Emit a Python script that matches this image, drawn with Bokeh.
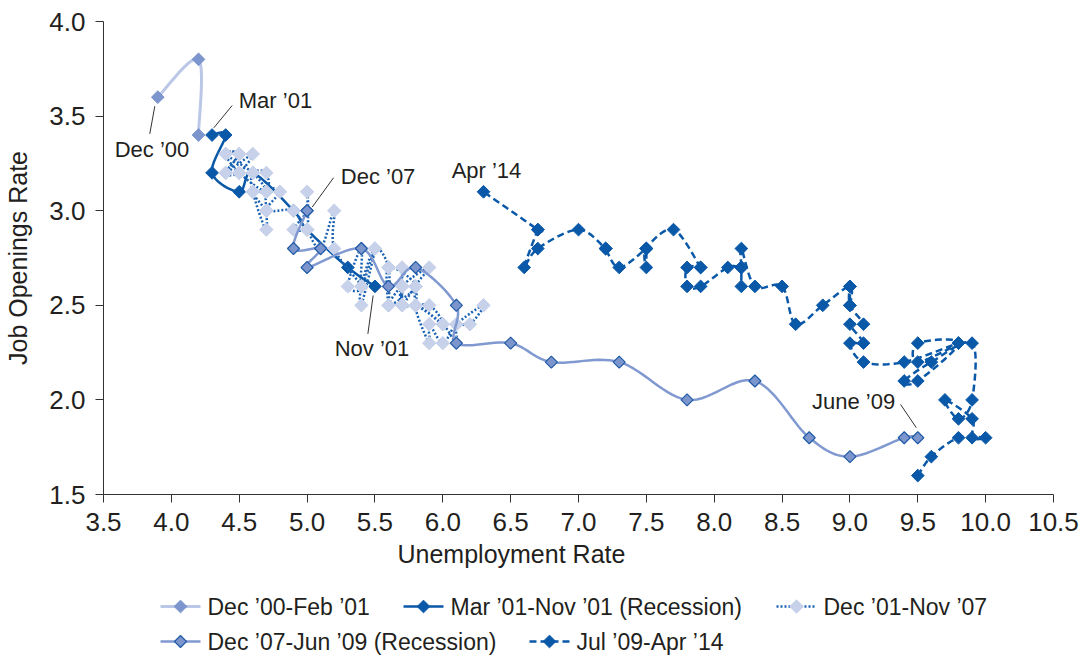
import numpy as np
from bokeh.plotting import figure
from bokeh.layouts import column
from bokeh.models import Range1d, Label, FixedTicker, NumeralTickFormatter, Title
from bokeh.core.properties import value
from bokeh.embed import file_html
from bokeh.resources import INLINE

# ---------------- data ----------------
s1_u = [3.9, 4.2, 4.2]
s1_v = [3.6, 3.8, 3.4]

s2_u = [4.3, 4.4, 4.3, 4.5, 4.6, 4.9, 5.0, 5.3, 5.5]
s2_v = [3.4, 3.4, 3.2, 3.1, 3.2, 3.0, 2.9, 2.7, 2.6]

s3_u = [5.7,
        5.7, 5.7, 5.7, 5.9, 5.8, 5.8, 5.8, 5.7, 5.7, 5.7, 5.9, 6.0,
        5.8, 5.9, 5.9, 6.0, 6.1, 6.3, 6.2, 6.1, 6.1, 6.0, 5.8, 5.7,
        5.7, 5.6, 5.8, 5.6, 5.6, 5.6, 5.5, 5.4, 5.4, 5.5, 5.4, 5.4,
        5.3, 5.4, 5.2, 5.2, 5.1, 5.0, 5.0, 4.9, 5.0, 5.0, 5.0, 4.9,
        4.7, 4.8, 4.7, 4.7, 4.6, 4.6, 4.7, 4.7, 4.5, 4.4, 4.5, 4.4,
        4.6, 4.5, 4.4, 4.5, 4.4, 4.6, 4.7, 4.6, 4.7, 4.7, 4.7]
s3_v = [2.6,
        2.7, 2.5, 2.6, 2.7, 2.6, 2.5, 2.6, 2.5, 2.6, 2.5, 2.5, 2.4,
        2.5, 2.3, 2.4, 2.3, 2.4, 2.5, 2.4, 2.4, 2.3, 2.4, 2.5, 2.5,
        2.6, 2.5, 2.6, 2.7, 2.5, 2.7, 2.8, 2.6, 2.5, 2.8, 2.6, 2.8,
        2.6, 2.6, 2.8, 3.0, 2.8, 2.9, 2.9, 2.9, 3.0, 3.1, 2.9, 3.0,
        3.0, 3.1, 3.1, 2.9, 3.1, 3.2, 3.2, 3.1, 3.2, 3.3, 3.3, 3.2,
        3.3, 3.2, 3.2, 3.3, 3.3, 3.2, 3.1, 3.1, 3.0, 3.0, 3.0]

s4_u = [5.0, 5.0, 4.9, 5.1, 5.0, 5.4, 5.6, 5.8, 6.1, 6.1, 6.5, 6.8, 7.3, 7.8, 8.3, 8.7, 9.0, 9.4, 9.5]
s4_v = [3.0, 3.0, 2.8, 2.8, 2.7, 2.8, 2.6, 2.7, 2.5, 2.3, 2.3, 2.2, 2.2, 2.0, 2.1, 1.8, 1.7, 1.8, 1.8]

s5_u = [9.5, 9.6, 9.8, 10.0, 9.9, 9.9,
        9.7, 9.8, 9.9, 9.9, 9.6, 9.4, 9.5, 9.8, 9.5, 9.5, 9.8, 9.4,
        9.1, 9.0, 9.1, 9.0, 9.1, 9.0, 9.0, 9.0, 9.0, 8.8, 8.6, 8.5,
        8.3, 8.2, 8.2, 8.2, 8.2, 8.2, 8.2, 8.1, 7.9, 7.8, 7.8, 7.9,
        7.9, 7.7, 7.5, 7.5, 7.5, 7.5, 7.3, 7.2, 7.2, 7.2, 7.0, 6.7,
        6.6, 6.7, 6.7, 6.3]
s5_v = [1.6, 1.7, 1.8, 1.8, 1.8, 1.9,
        2.0, 1.9, 2.0, 2.3, 2.2, 2.1, 2.1, 2.3, 2.3, 2.2, 2.3, 2.2,
        2.2, 2.3, 2.3, 2.4, 2.4, 2.5, 2.6, 2.5, 2.6, 2.5, 2.4, 2.6,
        2.6, 2.8, 2.7, 2.6, 2.7, 2.7, 2.7, 2.7, 2.6, 2.6, 2.7, 2.7,
        2.7, 2.9, 2.8, 2.7, 2.8, 2.8, 2.7, 2.8, 2.8, 2.8, 2.9, 2.8,
        2.7, 2.9, 2.9, 3.1]

series_labels = ["Dec \u201900-Feb \u201901", "Mar \u201901-Nov \u201901 (Recession)",
                 "Dec \u201901-Nov \u201907", "Dec \u201907-Jun \u201909 (Recession)",
                 "Jul \u201909-Apr \u201914"]

x_ticks = [3.5, 4.0, 4.5, 5.0, 5.5, 6.0, 6.5, 7.0, 7.5, 8.0, 8.5, 9.0, 9.5, 10.0, 10.5]
y_ticks = [1.5, 2.0, 2.5, 3.0, 3.5, 4.0]

# annotation texts and their anchor points (label centre x, label centre y)
ann_text = ["Dec \u201900", "Mar \u201901", "Dec \u201907", "Nov \u201901", "Apr \u201914", "June \u201909"]
ann_x = [3.857, 4.767, 5.523, 5.478, 6.322, 9.027]
ann_y = [3.326, 3.580, 3.183, 2.274, 3.212, 1.989]
lead_x0 = [3.878, 4.448, 5.195, 5.487, 9.373]
lead_y0 = [3.552, 3.556, 3.174, 2.552, 1.976]
lead_x1 = [3.841, 4.313, 5.038, 5.448, 9.489]
lead_y1 = [3.406, 3.438, 3.019, 2.349, 1.853]

FONT = "Liberation Sans"
TXT = "#231f20"
DARK = "#0a58a8"
LIGHT = "#c7d1ea"
MED = "#7d95cd"
ANG = np.pi / 4

# per-series styles: line colour, width, dash, marker fill, marker outline, size, outline width
styles = [
    dict(lc="#bac7e6", lw=3.0, dash="solid", mf=MED, ml=MED, ms=9, mlw=1),
    dict(lc=DARK, lw=2.5, dash="solid", mf=DARK, ml=DARK, ms=9, mlw=1),
    dict(lc="#1a62b3", lw=2.5, dash="2 2", mf=LIGHT, ml=LIGHT, ms=9.5, mlw=1),
    dict(lc="#8199d1", lw=2.5, dash="solid", mf=MED, ml="#1f5aa6", ms=8.5, mlw=1.2),
    dict(lc=DARK, lw=2.5, dash="7 4", mf=DARK, ml=DARK, ms=9, mlw=1),
]


def smooth(xs, ys, n=14):
    """Smoothed path through the points (Excel-style Bezier) in screen-proportional space."""
    sx, sy = 135.71, 189.2
    pts = np.column_stack([np.asarray(xs, float) * sx, np.asarray(ys, float) * sy])
    P = np.vstack([pts[0], pts, pts[-1]])
    out = [pts[0]]
    for i in range(1, len(P) - 2):
        p0, p1, p2, p3 = P[i - 1], P[i], P[i + 1], P[i + 2]
        c1 = p1 + (p2 - p0) / 6.0
        c2 = p2 - (p3 - p1) / 6.0
        t = np.linspace(0, 1, n + 1)[1:][:, None]
        seg = ((1 - t) ** 3) * p1 + 3 * ((1 - t) ** 2) * t * c1 + 3 * (1 - t) * t * t * c2 + t ** 3 * p2
        out.extend(seg)
    out = np.array(out)
    return list(out[:, 0] / sx), list(out[:, 1] / sy)


H_MAIN = 575
p = figure(width=1083, height=H_MAIN, output_backend="svg", toolbar_location=None,
           x_range=Range1d(3.5, 10.5), y_range=Range1d(1.5, 4.0),
           min_border_left=103, min_border_right=30, min_border_top=21,
           min_border_bottom=H_MAIN - 494)
p.grid.visible = False
p.outline_line_color = None
p.background_fill_color = "white"
p.border_fill_color = "white"

for ax in (p.xaxis[0], p.yaxis[0]):
    ax.axis_line_color = "#333333"
    ax.major_tick_line_color = "#333333"
    ax.major_tick_out = 8
    ax.major_tick_in = 0
    ax.minor_tick_line_color = None
    ax.major_label_text_font = FONT
    ax.major_label_text_font_size = "26px"
    ax.major_label_text_color = TXT
    ax.axis_label_text_font = FONT
    ax.axis_label_text_font_size = "25px"
    ax.axis_label_text_font_style = "normal"
    ax.axis_label_text_color = TXT
    ax.formatter = NumeralTickFormatter(format="0.0")

p.xaxis[0].ticker = FixedTicker(ticks=x_ticks)
p.yaxis[0].ticker = FixedTicker(ticks=y_ticks)
p.yaxis[0].axis_label = "Job Openings Rate"
p.xaxis[0].major_label_standoff = 10
p.yaxis[0].major_label_standoff = 10
p.yaxis[0].axis_label_standoff = 14

series = [(s1_u, s1_v), (s2_u, s2_v), (s3_u, s3_v), (s4_u, s4_v), (s5_u, s5_v)]
for (u, v), st in zip(series, styles):
    x, y = smooth(u, v)
    p.line(x, y, line_color=st["lc"], line_width=st["lw"], line_dash=st["dash"], line_join="round")
    p.scatter(u, v, marker="square", angle=ANG, size=st["ms"], fill_color=st["mf"],
              line_color=st["ml"], line_width=st["mlw"])

# annotations
p.segment(lead_x0, lead_y0, lead_x1, lead_y1, line_color="#333333", line_width=1)
for t, ax_, ay_ in zip(ann_text, ann_x, ann_y):
    p.add_layout(Label(x=ax_, y=ay_, text=t, text_align="center", text_baseline="middle",
                       text_font=FONT, text_font_size="22px", text_color=TXT))

# x axis title (placed below, shifted left like the original)
p.add_layout(Title(text="Unemployment Rate", align="left", offset=294, standoff=8,
                   text_font=FONT, text_font_size="25px", text_font_style="normal",
                   text_color=TXT), "below")

# ---------------- legend (separate strip; its frame is aligned with the main frame) ----------------
H_LEG = 655 - H_MAIN
leg = figure(width=1083, height=H_LEG, output_backend="svg", toolbar_location=None,
             x_range=Range1d(103, 1053), y_range=Range1d(H_LEG, 0),
             min_border_left=103, min_border_right=30, min_border_top=0, min_border_bottom=0)
leg.axis.visible = False
leg.grid.visible = False
leg.outline_line_color = None
leg.background_fill_color = "white"
leg.border_fill_color = "white"

leg_gx = [160, 403, 776, 160, 529]          # left edge of each legend glyph (page px)
leg_row = [0, 0, 0, 1, 1]
row_mid = [606 - H_MAIN, 641 - H_MAIN]     # glyph / text centre per row
for i, st in enumerate(styles):
    gx = leg_gx[i]
    ym = row_mid[leg_row[i]]
    leg.line([gx, gx + 40], [ym, ym], line_color=st["lc"], line_width=st["lw"], line_dash=st["dash"])
    leg.scatter([gx + 20], [ym], marker="square", angle=ANG, size=st["ms"], fill_color=st["mf"],
                line_color=st["ml"], line_width=st["mlw"])
    leg.text([gx + 47], [ym], text=[series_labels[i]], text_font=value(FONT),
             text_font_size="23px", text_color=TXT, text_baseline="middle", text_align="left")

layout = column(p, leg, spacing=0)
open("out.html", "w").write(file_html(layout, INLINE))
